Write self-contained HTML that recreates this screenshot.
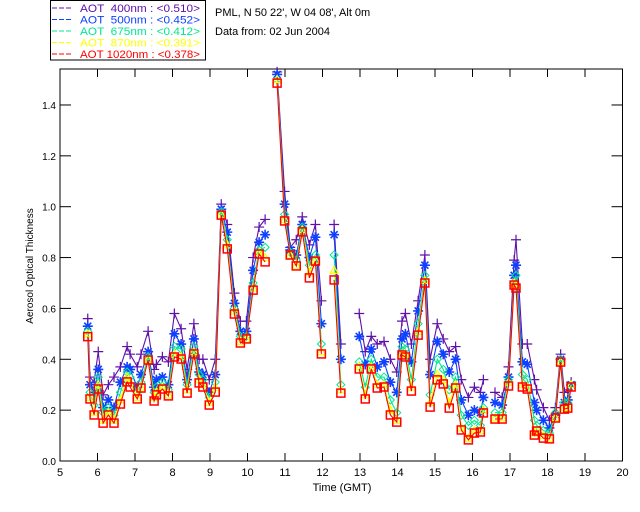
<!DOCTYPE html>
<html><head><meta charset="utf-8"><style>
html,body{margin:0;padding:0;background:#fff;}
svg{display:block;font-family:"Liberation Sans",sans-serif;}
</style></head><body>
<svg id="chart" width="640" height="512" viewBox="0 0 640 512">
<rect x="0" y="0" width="640" height="512" fill="#fff"/>
<g id="legend">
<rect x="50.5" y="0.5" width="155" height="59.5" fill="#fff" stroke="#000"/>
</g>
<text x="215" y="16" font-size="11">PML, N 50 22', W 04 08', Alt 0m</text>
<text x="215" y="35" font-size="11">Data from: 02 Jun 2004</text>
<g id="axes"></g>
<g id="series"></g>
<text x="342" y="491" font-size="11" text-anchor="middle">Time (GMT)</text>
<text transform="translate(33,266) rotate(-90)" font-size="10" text-anchor="middle">Aerosol Optical Thickness</text>
</svg>
<script>
const times=[5.74,5.80,5.91,6.02,6.15,6.29,6.44,6.61,6.79,6.87,7.06,7.16,7.35,7.51,7.57,7.73,7.89,8.05,8.23,8.39,8.57,8.71,8.81,8.98,9.14,9.30,9.46,9.65,9.81,9.97,10.15,10.31,10.47,10.79,10.99,11.14,11.30,11.46,11.65,11.81,11.97,12.31,12.49,12.98,13.14,13.30,13.46,13.64,13.81,13.98,14.12,14.21,14.37,14.55,14.73,14.87,15.06,15.22,15.38,15.55,15.70,15.89,16.05,16.21,16.29,16.60,16.79,16.96,17.11,17.16,17.33,17.46,17.65,17.71,17.89,18.05,18.21,18.35,18.45,18.54,18.63];
const aot400=[0.56,0.33,0.31,0.43,0.26,0.30,0.33,0.37,0.45,0.42,0.37,0.42,0.51,0.36,0.38,0.41,0.39,0.58,0.52,0.36,0.54,0.40,0.40,0.32,0.40,1.01,0.93,0.66,0.55,0.55,0.80,0.92,0.95,1.53,1.06,0.84,0.87,0.96,0.85,0.93,0.63,0.93,0.46,0.58,0.43,0.49,0.46,0.47,0.40,0.35,0.55,0.58,0.46,0.63,0.81,0.40,0.54,0.48,0.43,0.45,0.32,0.25,0.29,0.27,0.32,0.27,0.25,0.37,0.79,0.87,0.46,0.46,0.32,0.28,0.21,0.16,0.21,0.42,0.27,0.28,0.31];
const aot500=[0.53,0.30,0.27,0.36,0.21,0.24,0.21,0.31,0.37,0.36,0.29,0.34,0.43,0.29,0.32,0.33,0.30,0.50,0.46,0.32,0.48,0.35,0.34,0.27,0.34,0.99,0.90,0.62,0.51,0.51,0.75,0.86,0.89,1.52,1.01,0.83,0.81,0.93,0.80,0.88,0.54,0.89,0.40,0.49,0.38,0.44,0.37,0.39,0.31,0.27,0.48,0.50,0.39,0.59,0.77,0.34,0.47,0.42,0.35,0.40,0.24,0.18,0.20,0.19,0.25,0.23,0.22,0.33,0.73,0.77,0.39,0.38,0.23,0.20,0.16,0.13,0.18,0.40,0.23,0.24,0.30];
const aot675=[0.51,0.27,0.22,0.33,0.19,0.21,0.18,0.27,0.35,0.33,0.27,0.31,0.41,0.27,0.29,0.31,0.28,0.45,0.44,0.30,0.45,0.34,0.32,0.25,0.31,0.98,0.87,0.60,0.49,0.49,0.70,0.83,0.84,1.50,0.97,0.82,0.79,0.92,0.77,0.81,0.46,0.81,0.30,0.39,0.29,0.40,0.33,0.33,0.24,0.19,0.45,0.44,0.32,0.54,0.73,0.26,0.40,0.36,0.28,0.33,0.18,0.14,0.16,0.14,0.21,0.19,0.19,0.32,0.70,0.73,0.34,0.32,0.16,0.14,0.12,0.11,0.19,0.40,0.23,0.23,0.30];
const aot870=[0.50,0.25,0.19,0.30,0.16,0.19,0.16,0.24,0.33,0.31,0.25,0.29,0.40,0.25,0.27,0.29,0.26,0.42,0.41,0.28,0.43,0.32,0.30,0.23,0.29,0.97,0.85,0.59,0.47,0.48,0.68,0.82,0.80,1.50,0.95,0.81,0.77,0.91,0.74,0.79,0.43,0.75,0.28,0.37,0.26,0.37,0.30,0.30,0.20,0.16,0.42,0.42,0.29,0.51,0.71,0.23,0.34,0.32,0.23,0.30,0.13,0.09,0.12,0.12,0.20,0.17,0.17,0.31,0.70,0.69,0.30,0.29,0.11,0.12,0.10,0.09,0.17,0.39,0.21,0.21,0.30];
const aot1020=[0.489,0.244,0.181,0.283,0.149,0.181,0.149,0.224,0.311,0.291,0.244,0.287,0.397,0.236,0.260,0.283,0.256,0.409,0.401,0.267,0.421,0.307,0.291,0.220,0.271,0.967,0.834,0.578,0.464,0.480,0.672,0.814,0.783,1.486,0.944,0.810,0.767,0.901,0.720,0.786,0.421,0.712,0.267,0.362,0.244,0.362,0.287,0.291,0.181,0.153,0.417,0.409,0.275,0.495,0.700,0.212,0.319,0.303,0.208,0.287,0.122,0.083,0.110,0.114,0.189,0.165,0.165,0.295,0.692,0.680,0.291,0.283,0.102,0.118,0.090,0.087,0.169,0.389,0.204,0.208,0.291];
const xTicks=[5,6,7,8,9,10,11,12,13,14,15,16,17,18,19,20];
const yTicks=[0.0,0.2,0.4,0.6,0.8,1.0,1.2,1.4];
const legendLabels=["AOT  400nm : <0.510>","AOT  500nm : <0.452>","AOT  675nm : <0.412>","AOT  870nm : <0.391>","AOT 1020nm : <0.378>"];

const NS="http://www.w3.org/2000/svg";
const X0=60,X1=622.5,Y0=461,YT=69;
function xs(t){return X0+(t-5)*(X1-X0)/15;}
function ys(v){return Y0-v*254.3;}
function mk(tag,attrs,parent){const e=document.createElementNS(NS,tag);for(const k in attrs)e.setAttribute(k,attrs[k]);parent.appendChild(e);return e;}
const axes=document.getElementById('axes');
let frame=mk('rect',{x:X0,y:YT,width:X1-X0,height:Y0-YT,fill:'none',stroke:'#000','stroke-width':1},axes);


xTicks.forEach(t=>{
  const x=xs(t);
  const l=mk('line',{x1:x,x2:x,y1:Y0,y2:Y0-8,stroke:'#000'},axes);
  
  
  const l2=mk('line',{x1:x,x2:x,y1:YT,y2:YT+8,stroke:'#000'},axes);
  
  
  const tx=mk('text',{x:x,y:Y0+15,'font-size':11,'text-anchor':'middle'},axes);
  tx.textContent=String(t);
  
  
});
yTicks.forEach(v=>{
  const y=ys(v);
  const l=mk('line',{x1:X0,x2:X0+11,y1:y,y2:y,stroke:'#000'},axes);
  
  
  const l2=mk('line',{x1:X1,x2:X1-11,y1:y,y2:y,stroke:'#000'},axes);
  
  
  const tx=mk('text',{x:X0-4,y:y+4,'font-size':10,'text-anchor':'end'},axes);
  tx.textContent=v.toFixed(1);
  
  
});
const seriesDefs=[
  {vals:aot400,color:'#6010a8',m:'plus',name:'aot-400nm'},
  {vals:aot500,color:'#1040ff',m:'star',name:'aot-500nm'},
  {vals:aot675,color:'#00e890',m:'diamond',name:'aot-675nm'},
  {vals:aot870,color:'#ffff00',m:'tri',name:'aot-870nm'},
  {vals:aot1020,color:'#ff0000',m:'square',name:'aot-1020nm'}
];
function marker(type,x,y,c,g){
  let e;
  if(type==='plus'){e=mk('path',{d:`M${x-5} ${y}H${x+5}M${x} ${y-5}V${y+5}`,stroke:c,'stroke-width':1.2,fill:'none'},g);}
  else if(type==='star'){e=mk('path',{d:`M${x-5} ${y}H${x+5}M${x} ${y-5}V${y+5}M${x-3.5} ${y-3.5}L${x+3.5} ${y+3.5}M${x-3.5} ${y+3.5}L${x+3.5} ${y-3.5}`,stroke:c,'stroke-width':1.6,fill:'none'},g);}
  else if(type==='diamond'){e=mk('path',{d:`M${x} ${y-4}L${x+4} ${y}L${x} ${y+4}L${x-4} ${y}Z`,stroke:c,'stroke-width':1,fill:'none'},g);}
  else if(type==='tri'){e=mk('path',{d:`M${x} ${y-4}L${x+4} ${y+3}L${x-4} ${y+3}Z`,stroke:c,'stroke-width':1.2,fill:'none'},g);}
  else {e=mk('rect',{x:x-4,y:y-4,width:8,height:8,stroke:c,'stroke-width':1.5,fill:'none'},g);}
  
  
}
const sg=document.getElementById('series');
seriesDefs.forEach(s=>{
  const g=mk('g',{},sg);
  
  
  let d='';
  for(let i=0;i<times.length;i++){
    if(s.vals[i]==null)continue;
    const x=xs(times[i]),y=ys(s.vals[i]);
    const brk=i===0||times[i]-times[i-1]>0.25||s.vals[i-1]==null;
    d+=(brk?'M':'L')+x.toFixed(1)+' '+y.toFixed(1);
  }
  const p=mk('path',{d:d,stroke:s.color,'stroke-width':1.1,fill:'none'},g);
  
  
  for(let i=0;i<times.length;i++){
    if(s.vals[i]==null)continue;
    marker(s.m,xs(times[i]),ys(s.vals[i]),s.color,g);
  }
});
const lg=document.getElementById('legend');
seriesDefs.forEach((s,i)=>{
  const y=8+i*11.5;
  const l=mk('line',{x1:52,x2:72,y1:y,y2:y,stroke:s.color,'stroke-dasharray':'5,2'},lg);
  
  
  const t=mk('text',{x:80,y:y+4,'font-size':11,fill:s.color,textLength:120,lengthAdjust:'spacingAndGlyphs'},lg);
  t.setAttribute('style','white-space:pre');
  t.textContent=legendLabels[i];
  
  
});
</script>
</body></html>
